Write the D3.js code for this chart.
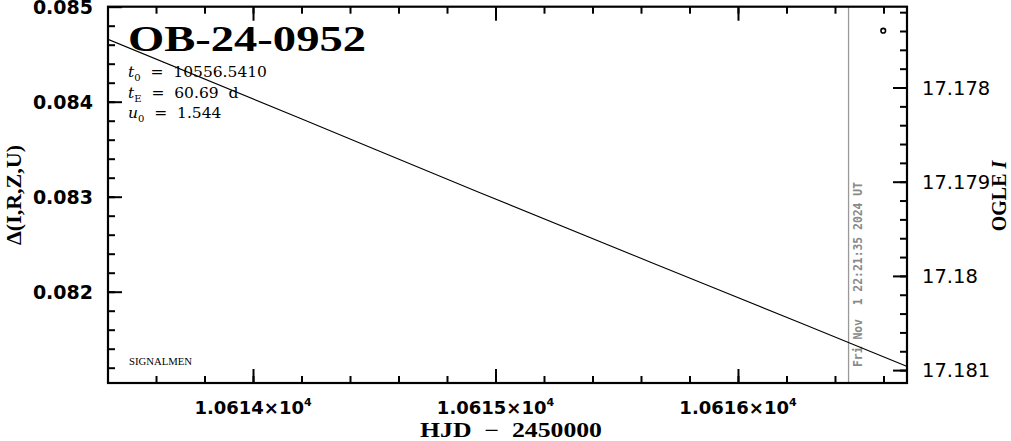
<!DOCTYPE html>
<html><head><meta charset="utf-8">
<script src="https://cdn.jsdelivr.net/npm/d3@7/dist/d3.min.js"></script>
<style>
html,body{margin:0;padding:0;background:#fff;}
svg{display:block;}
text{white-space:pre;}
</style></head>
<body>
<script>
// ---- data ----
const modelTime = [10613.402, 10614.194, 10614.936, 10615.637, 10616.256, 10616.697];
const modelMag  = [17.177488, 17.178327, 17.179117, 17.179852, 17.180497, 17.180962];
const obsTime = [10616.599];
const obsMag  = [17.177397];
const xMajorTicks = [10614, 10615, 10616];
const leftMajorTicks = [0.082, 0.083, 0.084, 0.085];
const leftTickLabels = ["0.082", "0.083", "0.084", "0.085"];
const rightMajorTicks = [17.178, 17.179, 17.18, 17.181];
const rightTickLabels = ["17.178", "17.179", "17.18", "17.181"];
const nowTime = 10616.456;
const nowLabel = "Fri Nov  1 22:21:35 2024 UT";
const eventName = "OB-24-0952";
const params = [["t","0","  =  10556.5410"],["t","E","  =  60.69  d"],["u","0","  =  1.544"]];

const W = 1011, H = 441;
const L = 108, R = 907, T = 6.7, B = 383;

const svg = d3.select("body").append("svg").attr("width", W).attr("height", H);

const x = d3.scaleLinear().domain([10613.402, 10616.697]).range([L, R]);
const yL = d3.scaleLinear().domain([0.081039, 0.085]).range([B, T]);
const yR = d3.scaleLinear().domain([17.181137, 17.177142]).range([B, T]);

svg.append("defs").append("clipPath").attr("id","clip")
  .append("rect").attr("x",L).attr("y",T).attr("width",R-L).attr("height",B-T);

const range = (a,b,s)=>{const r=[];for(let v=a;v<=b+1e-9;v+=s)r.push(+v.toFixed(6));return r;};
const xMinor = range(10613.4, 10616.6, 0.2).filter(v=>x(v)>L+1 && x(v)<R-1);
const lMinor = range(0.0812, 0.085, 0.0002).filter(v=>yL(v)>T+1 && yL(v)<B-1);
const rMinor = range(17.1772, 17.1810, 0.0002).filter(v=>yR(v)>T+1 && yR(v)<B-1);

function addAxis(axis, tr){
  const g = svg.append("g").attr("transform", tr).call(axis);
  g.select(".domain").remove();
  g.selectAll("text").remove();
  g.selectAll("line").attr("stroke","#000").attr("stroke-width",2);
  return g;
}
const MJ = 14, MN = 7;
addAxis(d3.axisBottom(x).tickValues(xMajorTicks).tickSize(-MJ), `translate(0,${B})`);
addAxis(d3.axisBottom(x).tickValues(xMinor).tickSize(-MN), `translate(0,${B})`);
addAxis(d3.axisTop(x).tickValues(xMajorTicks).tickSize(-MJ), `translate(0,${T})`);
addAxis(d3.axisTop(x).tickValues(xMinor).tickSize(-MN), `translate(0,${T})`);
addAxis(d3.axisLeft(yL).tickValues(leftMajorTicks).tickSize(-MJ), `translate(${L},0)`);
addAxis(d3.axisLeft(yL).tickValues(lMinor).tickSize(-MN), `translate(${L},0)`);
addAxis(d3.axisRight(yR).tickValues(rightMajorTicks).tickSize(-MJ), `translate(${R},0)`);
addAxis(d3.axisRight(yR).tickValues(rMinor).tickSize(-MN), `translate(${R},0)`);

// vertical "now" line
svg.append("line").attr("x1",x(nowTime)).attr("x2",x(nowTime)).attr("y1",T).attr("y2",B)
  .attr("stroke","#999").attr("stroke-width",1.3);
svg.append("text").attr("transform",`translate(${x(nowTime)+13.5},${B-16}) rotate(-90)`)
  .attr("font-family","DejaVu Sans Mono").attr("font-weight","bold").attr("font-size",13)
  .attr("fill","#8a8a8a").attr("textLength",185).attr("lengthAdjust","spacingAndGlyphs")
  .text(nowLabel);

// model line
const line = d3.line().curve(d3.curveMonotoneX).x((d,i)=>x(modelTime[i])).y((d,i)=>yR(modelMag[i]));
svg.append("path").datum(modelMag).attr("d",line).attr("fill","none")
  .attr("stroke","#000").attr("stroke-width",1.1).attr("clip-path","url(#clip)");

// observation
svg.selectAll("circle.obs").data(obsMag).enter().append("circle")
  .attr("cx",(d,i)=>x(obsTime[i])).attr("cy",d=>yR(d)).attr("r",2.3)
  .attr("fill","none").attr("stroke","#000").attr("stroke-width",1.6);

// frame
svg.append("rect").attr("x",L).attr("y",T).attr("width",R-L).attr("height",B-T)
  .attr("fill","none").attr("stroke","#000").attr("stroke-width",2.2);

// left tick labels
svg.selectAll("text.lt").data(leftMajorTicks).enter().append("text")
  .attr("x",93).attr("y",d=>yL(d)+7).attr("text-anchor","end")
  .attr("font-family","DejaVu Sans").attr("font-weight","bold").attr("font-size",19)
  .text((d,i)=>leftTickLabels[i]);

// right tick labels
svg.selectAll("text.rt").data(rightMajorTicks).enter().append("text")
  .attr("x",922).attr("y",d=>yR(d)+7).attr("text-anchor","start")
  .attr("font-family","DejaVu Sans").attr("font-size",19.5)
  .text((d,i)=>rightTickLabels[i]);

// x tick labels
xMajorTicks.forEach(v=>{
  const t = svg.append("text").attr("x",x(v)).attr("y",414).attr("text-anchor","middle")
    .attr("font-family","DejaVu Sans").attr("font-weight","bold").attr("font-size",18);
  t.append("tspan").text((v/1e4).toFixed(4)+"×10");
  t.append("tspan").attr("font-size",11).attr("dy",-8).text("4");
});

// axis titles
svg.append("text").attr("x",511).attr("y",437).attr("text-anchor","middle")
  .attr("font-family","Liberation Serif").attr("font-weight","bold").attr("font-size",20)
  .attr("textLength",182).attr("lengthAdjust","spacingAndGlyphs")
  .text("HJD  −  2450000");
svg.append("text").attr("transform","translate(21,195) rotate(-90)").attr("text-anchor","middle")
  .attr("font-family","Liberation Serif").attr("font-weight","bold").attr("font-size",21)
  .attr("textLength",100).attr("lengthAdjust","spacingAndGlyphs")
  .text("Δ(I,R,Z,U)");
const og = svg.append("text").attr("transform","translate(1006,196) rotate(-90)").attr("text-anchor","middle")
  .attr("font-family","Liberation Serif").attr("font-weight","bold").attr("font-size",20);
og.append("tspan").text("OGLE ");
og.append("tspan").attr("font-style","italic").text("I");

// title
svg.append("text").attr("x",128).attr("y",51)
  .attr("font-family","Liberation Serif").attr("font-weight","bold").attr("font-size",36)
  .attr("textLength",238).attr("lengthAdjust","spacingAndGlyphs")
  .text(eventName);

// params
params.forEach((p,i)=>{
  const t = svg.append("text").attr("x",128).attr("y",77+i*20.5)
    .attr("font-family","DejaVu Serif").attr("font-size",15.5);
  t.append("tspan").attr("font-style","italic").text(p[0]);
  t.append("tspan").attr("font-size",10).attr("dy",4).text(p[1]);
  t.append("tspan").attr("dy",-4).text(p[2]);
});

svg.append("text").attr("x",129).attr("y",365)
  .attr("font-family","Liberation Serif").attr("font-size",10.5)
  .attr("textLength",63).attr("lengthAdjust","spacingAndGlyphs")
  .text("SIGNALMEN");
</script>
</body></html>
